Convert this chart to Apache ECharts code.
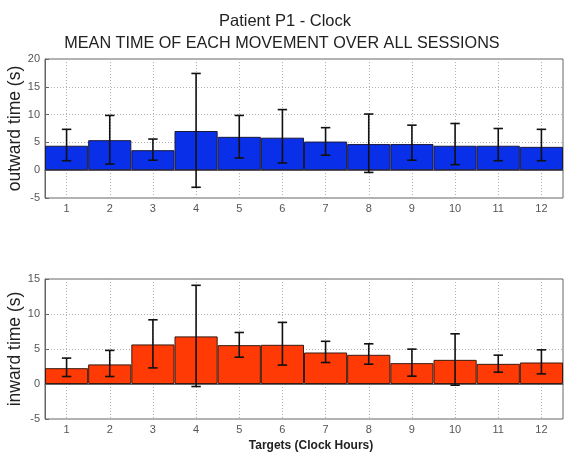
<!DOCTYPE html>
<html><head><meta charset="utf-8">
<script src="https://cdn.jsdelivr.net/npm/echarts@6/dist/echarts.min.js"></script>
<style>html,body{margin:0;padding:0;background:#fff}#c{width:565px;height:453px}</style>
</head><body><div id="c"></div>
<script>
const targets = ['1','2','3','4','5','6','7','8','9','10','11','12'];
const outwardMean = [4.4, 5.4, 3.6, 7.05, 6.0, 5.85, 5.15, 4.7, 4.7, 4.4, 4.4, 4.2];
const outwardHigh = [7.35, 9.85, 5.6, 17.4, 9.85, 10.9, 7.65, 10.1, 8.1, 8.4, 7.5, 7.35];
const outwardLow  = [1.7, 1.1, 1.8, -3.07, 2.2, 1.3, 2.7, -0.4, 1.8, 1.0, 1.7, 1.7];
const inwardMean = [2.26, 2.8, 5.65, 6.8, 5.55, 5.6, 4.5, 4.17, 2.98, 3.45, 2.88, 3.07];
const inwardHigh = [3.7, 4.8, 9.17, 14.1, 7.36, 8.8, 6.1, 5.74, 4.98, 7.17, 4.12, 4.88];
const inwardLow  = [1.07, 1.07, 2.3, -0.36, 3.83, 2.7, 3.07, 2.83, 1.12, -0.17, 1.69, 1.45];

const chart = echarts.init(document.getElementById('c'));
const FF = 'Liberation Sans, Arial, sans-serif';
const gridLine = {show:true, lineStyle:{color:'#b0b0b0', type:[1,2], width:1}};
const lbl = {color:'#555', fontSize:11, fontFamily:FF};
function xAx(gi){
  return {type:'category', gridIndex:gi, data:targets,
    axisLine:{show:true, lineStyle:{color:'#666'}},
    axisTick:{show:true, inside:true, alignWithLabel:true, length:4, lineStyle:{color:'#666'}},
    axisLabel:Object.assign({margin:5}, lbl),
    splitLine:Object.assign({alignWithLabel:true}, gridLine)};
}
function yAx(gi, min, max, name){
  return {type:'value', gridIndex:gi, min:min, max:max, interval:5,
    name:name, nameLocation:'middle', nameGap:21, nameMoveOverlap:false,
    nameTextStyle:{fontSize:17.5, color:'#222', fontFamily:FF},
    axisLine:{show:true, lineStyle:{color:'#666'}},
    axisTick:{show:true, inside:true, length:4, lineStyle:{color:'#666'}},
    axisLabel:Object.assign({margin:5}, lbl),
    splitLine:gridLine};
}
function errSeries(gi, hi, lo){
  return {type:'custom', xAxisIndex:gi, yAxisIndex:gi, z:10,
    data:targets.map((t,i)=>[i, hi[i], lo[i]]),
    renderItem:function(params, api){
      const x = api.value(0);
      const a = api.coord([x, api.value(1)]);
      const b = api.coord([x, api.value(2)]);
      const w = 4.7;
      const st = {stroke:'#111', lineWidth:1.6};
      return {type:'group', children:[
        {type:'line', shape:{x1:a[0], y1:a[1], x2:b[0], y2:b[1]}, style:st},
        {type:'line', shape:{x1:a[0]-w, y1:a[1], x2:a[0]+w, y2:a[1]}, style:st},
        {type:'line', shape:{x1:b[0]-w, y1:b[1], x2:b[0]+w, y2:b[1]}, style:st}
      ]};
    }};
}
chart.setOption({
  animation:false,
  title:[
    {text:'Patient P1 - Clock', left:280, top:8, textAlign:'center',
     textStyle:{fontSize:16.5, fontWeight:'normal', color:'#222', fontFamily:FF}},
    {text:'MEAN TIME OF EACH MOVEMENT OVER ALL SESSIONS', left:277, top:31, textAlign:'center',
     textStyle:{fontSize:16.2, fontWeight:'normal', color:'#222', fontFamily:FF}},
    {text:'Targets (Clock Hours)', left:306, top:435, textAlign:'center',
     textStyle:{fontSize:12, fontWeight:'bold', color:'#222', fontFamily:FF}}
  ],
  grid:[
    {left:45, top:59, width:518, height:139, outerBoundsMode:'none', containLabel:false, show:true, borderColor:'#666', borderWidth:1, backgroundColor:'#fff'},
    {left:45, top:279, width:518, height:140, outerBoundsMode:'none', containLabel:false, show:true, borderColor:'#666', borderWidth:1, backgroundColor:'#fff'}
  ],
  xAxis:[xAx(0), xAx(1)],
  yAxis:[yAx(0,-5,20,'outward time (s)'), yAx(1,-5,15,'inward time (s)')],
  series:[
    {type:'bar', xAxisIndex:0, yAxisIndex:0, data:outwardMean, barCategoryGap:'0%',
     itemStyle:{color:'#0a2fe8', borderColor:'#1a1a3a', borderWidth:1}},
    errSeries(0, outwardHigh, outwardLow),
    {type:'bar', xAxisIndex:1, yAxisIndex:1, data:inwardMean, barCategoryGap:'0%',
     itemStyle:{color:'#ff3a05', borderColor:'#3a1a10', borderWidth:1}},
    errSeries(1, inwardHigh, inwardLow)
  ]
});
</script></body></html>
